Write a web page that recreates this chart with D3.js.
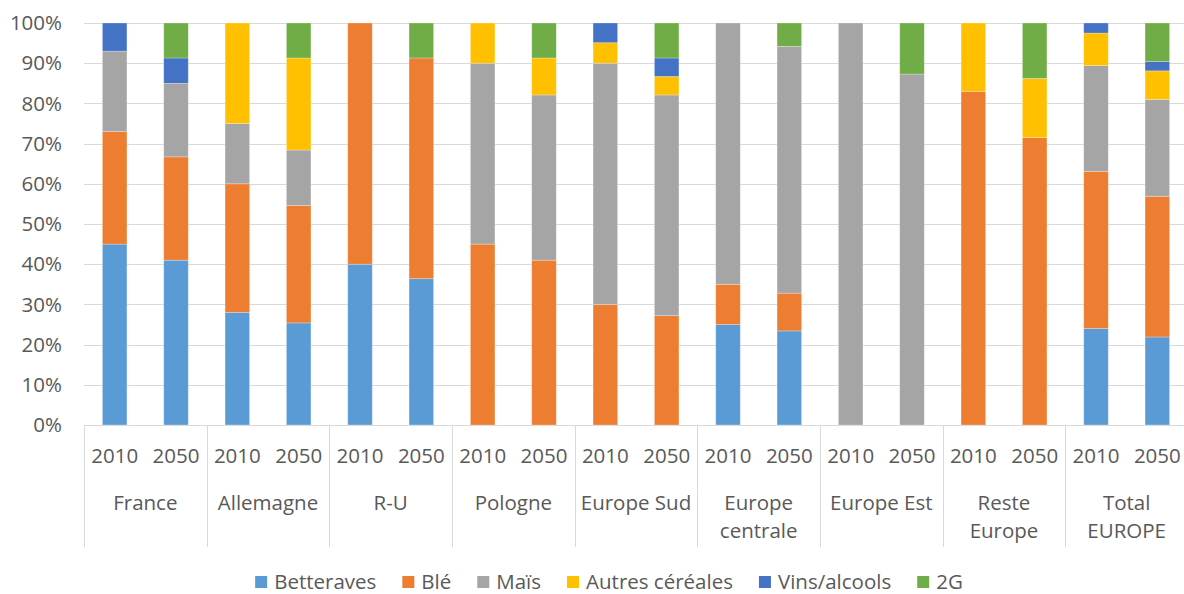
<!DOCTYPE html>
<html>
<head>
<meta charset="utf-8">
<script src="https://cdn.jsdelivr.net/npm/d3@7"></script>
<style>
  body { margin: 0; background: #fff; }
  svg { display: block; font-family: "Open Sans", sans-serif; }
  .grid line { stroke: #d9d9d9; stroke-width: 1; }
  .lbl { fill: #595959; font-size: 20.5px; }
</style>
</head>
<body>
<svg id="chart" width="1184" height="594"></svg>
<script>
// regions and years
const regions = ['France', 'Allemagne', 'R-U', 'Pologne', 'Europe Sud', 'Europe centrale', 'Europe Est', 'Reste Europe', 'Total EUROPE'];
const regionLines = [['France'], ['Allemagne'], ['R-U'], ['Pologne'], ['Europe Sud'], ['Europe', 'centrale'], ['Europe Est'], ['Reste', 'Europe'], ['Total', 'EUROPE']];
const years = ['2010', '2050'];

// shares in %, one value per bar (region x year)
const betteraves = [45, 41, 28, 25.4, 40, 36.4, 0, 0, 0, 0, 25, 23.4, 0, 0, 0, 0, 24, 21.9];
const ble        = [28, 25.7, 32, 29.2, 60, 54.9, 45, 41, 30, 27.2, 10, 9.4, 0, 0, 83, 71.5, 39.1, 35];
const mais       = [20, 18.3, 15, 13.8, 0, 0, 45, 41.1, 60, 54.9, 65, 61.4, 100, 87.3, 0, 0, 26.3, 24.1];
const autres     = [0, 0, 25, 22.9, 0, 0, 10, 9.2, 5.1, 4.6, 0, 0, 0, 0, 17, 14.7, 8.1, 7.1];
const vins       = [7, 6.3, 0, 0, 0, 0, 0, 0, 4.9, 4.6, 0, 0, 0, 0, 0, 0, 2.5, 2.3];
const deuxG      = [0, 8.7, 0, 8.7, 0, 8.7, 0, 8.7, 0, 8.7, 0, 5.8, 0, 12.7, 0, 13.8, 0, 9.6];

const seriesNames = ['Betteraves', 'Blé', 'Maïs', 'Autres céréales', 'Vins/alcools', '2G'];
const seriesValues = [betteraves, ble, mais, autres, vins, deuxG];
const colors = ['#5b9bd5', '#ed7d31', '#a5a5a5', '#ffc000', '#4472c4', '#70ad47'];
const yTicks = [0, 0.1, 0.2, 0.3, 0.4, 0.5, 0.6, 0.7, 0.8, 0.9, 1];

// table for d3.stack
const rows = [];
regions.forEach((r, i) => {
  years.forEach((yr, j) => {
    const row = { region: r, year: yr };
    seriesNames.forEach((s, k) => { row[s] = seriesValues[k][i * 2 + j]; });
    rows.push(row);
  });
});

const svg = d3.select('#chart');
const margin = { left: 84, right: 1188, top: 23, bottom: 425 };

const x0 = d3.scaleBand().domain(regions).range([margin.left, margin.right]);
const x1 = d3.scaleBand().domain(years).range([0, x0.bandwidth()]).paddingInner(0.6).paddingOuter(0.3);
const y = d3.scaleLinear().domain([0, 1]).range([margin.bottom, margin.top]);

// gridlines
svg.append('g').attr('class', 'grid')
  .selectAll('line').data(yTicks).join('line')
  .attr('x1', margin.left).attr('x2', margin.right)
  .attr('y1', d => Math.round(y(d)) + 0.5).attr('y2', d => Math.round(y(d)) + 0.5);

// y labels
svg.append('g').selectAll('text').data(yTicks).join('text')
  .attr('class', 'lbl')
  .attr('x', 62).attr('y', d => y(d))
  .attr('dy', '0.35em')
  .attr('text-anchor', 'end')
  .text(d3.format('.0%'));

const stack = d3.stack().keys(seriesNames).offset(d3.stackOffsetExpand);
const stacked = stack(rows);

svg.append('g').selectAll('g').data(stacked).join('g')
  .attr('fill', (d, i) => colors[i])
  .selectAll('rect').data(d => d).join('rect')
  .attr('x', d => x0(d.data.region) + x1(d.data.year))
  .attr('width', x1.bandwidth())
  .attr('y', d => y(d[1]))
  .attr('height', d => y(d[0]) - y(d[1]))
  .attr('stroke', '#fff')
  .attr('stroke-opacity', 0.35)
  .attr('stroke-width', 0.75);

// category axis separators
const bounds = regions.map(r => x0(r)).concat([margin.right]);
svg.append('g').attr('class', 'grid')
  .selectAll('line').data(bounds).join('line')
  .attr('x1', d => Math.round(d) + 0.5).attr('x2', d => Math.round(d) + 0.5)
  .attr('y1', margin.bottom).attr('y2', 547);

// year labels
svg.append('g').selectAll('text').data(rows).join('text')
  .attr('class', 'lbl')
  .attr('x', d => x0(d.region) + x1(d.year) + x1.bandwidth() / 2)
  .attr('y', 456).attr('dy', '0.35em')
  .attr('text-anchor', 'middle')
  .text(d => d.year);

// region labels
const rl = svg.append('g').selectAll('text').data(regions).join('text')
  .attr('class', 'lbl')
  .attr('text-anchor', 'middle');
rl.selectAll('tspan').data((d, i) => regionLines[i].map(t => ({ t, r: d })))
  .join('tspan')
  .attr('x', d => x0(d.r) + x0.bandwidth() / 2)
  .attr('y', (d, i) => 503 + i * 28)
  .attr('dy', '0.35em')
  .text(d => d.t);

// legend
const legend = svg.append('g');
let lx = 0;
const items = legend.selectAll('g').data(seriesNames).join('g');
items.append('rect')
  .attr('y', -6).attr('width', 12).attr('height', 12)
  .attr('fill', (d, i) => colors[i]);
items.append('text')
  .attr('class', 'lbl')
  .attr('x', 19).attr('dy', '0.35em')
  .text(d => d);
items.each(function () {
  const g = d3.select(this);
  g.attr('transform', `translate(${lx},0)`);
  lx += 19 + g.select('text').node().getComputedTextLength() + 26;
});
lx -= 26;
legend.attr('transform', `translate(${609 - lx / 2},582)`);
</script>
</body>
</html>
